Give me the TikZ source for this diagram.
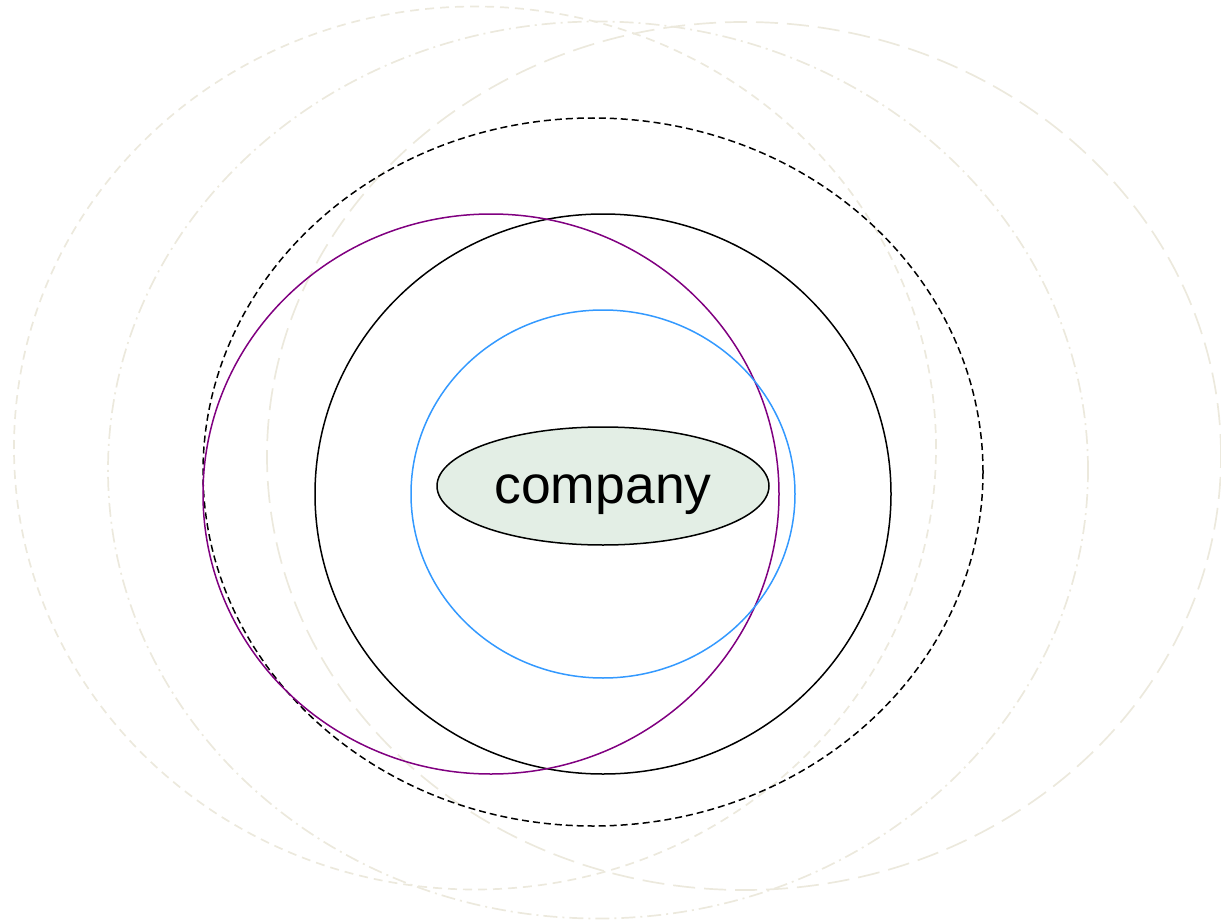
\documentclass[tikz,border=0pt]{standalone}
\usepackage{fontspec}
\setmainfont{Liberation Sans}
\usepackage{tikz}
\usetikzlibrary{shapes.geometric}

\definecolor{sand}{HTML}{ECE9DD}
\definecolor{skyblue}{HTML}{3399FF}
\definecolor{plum}{HTML}{800080}
\definecolor{mint}{HTML}{E3EEE5}

\begin{document}
\begin{tikzpicture}[
      x=1pt, y=-1pt,
      ring/.style={ellipse, draw, inner sep=0pt, outer sep=0pt, line width=1.5pt},
      halo/.style={ring, draw=sand, line width=1.7pt},
      finedash/.style={dash pattern=on 9pt off 6pt},
      dotdash/.style={dash pattern=on 14pt off 5pt on 2pt off 5pt},
      longdash/.style={dash pattern=on 22pt off 9pt},
      core/.style={ring, fill=mint, font=\fontsize{53.5}{60}\selectfont, text height=35.5pt, text depth=0pt}
  ]
      \useasboundingbox (0,0) rectangle (1221,923);

      % faint outer rings
      \node[halo, finedash, minimum width=922, minimum height=883] (haloa) at (475,448) {};
      \node[halo, dotdash, minimum width=980, minimum height=897] (halob) at (598,470) {};
      \node[halo, longdash, minimum width=954, minimum height=868] (haloc) at (744,456) {};

      % dashed boundary
      \node[ring, dash pattern=on 7pt off 4pt, minimum width=780, minimum height=708] (bound) at (593,472) {};

      % two overlapping circles
      \node[ring, minimum width=576, minimum height=560] (outer) at (603,494) {};
      \node[ring, draw=plum, minimum width=576, minimum height=560] (side) at (491,494) {};

      % inner circle
      \node[ring, draw=skyblue, minimum width=384, minimum height=368] (inner) at (603,494) {};

      % centre
      \node[core, minimum width=332, minimum height=118] (company) at (603,486) {company};
  \end{tikzpicture}
\end{document}
